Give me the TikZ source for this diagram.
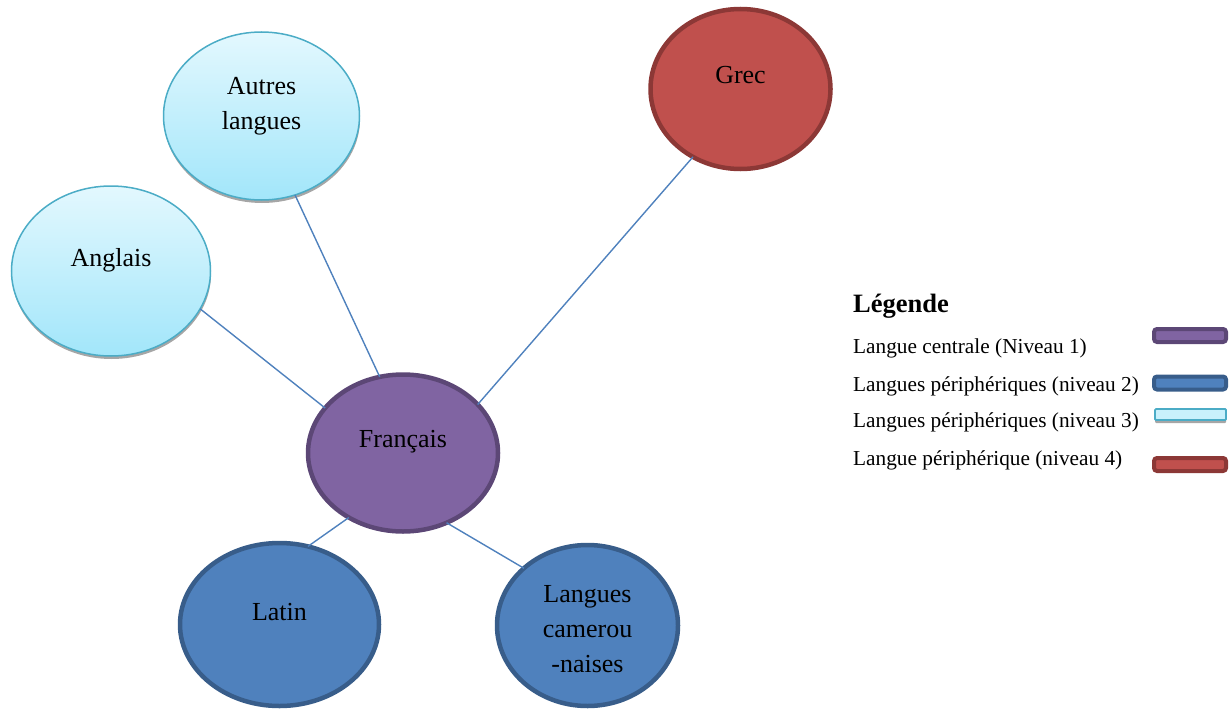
\documentclass[tikz,border=0pt]{standalone}
\usepackage{fontspec}
\setmainfont{LiberationSerif}[Extension=.ttf, UprightFont=*-Regular, BoldFont=*-Bold, ItalicFont=*-Italic, BoldItalicFont=*-BoldItalic]
\usetikzlibrary{shapes.geometric,shadows}
\definecolor{purpF}{HTML}{8064A2}
\definecolor{purpD}{HTML}{5C4776}
\definecolor{blueF}{HTML}{4F81BD}
\definecolor{blueD}{HTML}{385D8A}
\definecolor{redF}{HTML}{C0504D}
\definecolor{redD}{HTML}{8C3836}
\definecolor{cyanT}{HTML}{E3F8FE}
\definecolor{cyanB}{HTML}{A2E6FA}
\definecolor{cyanD}{HTML}{4BACC6}
\definecolor{shad}{HTML}{A6A6A6}
\tikzset{
  lang/.style={ellipse, inner sep=0pt, outer sep=0pt},
  lvone/.style={lang, fill=purpF, draw=purpD, line width=4.5pt},
  lvtwo/.style={lang, fill=blueF, draw=blueD, line width=4.5pt},
  lvthree/.style={lang, top color=cyanT, bottom color=cyanB, draw=cyanD, line width=1.5pt,
     general shadow={fill=shad, shadow yshift=-3pt, shadow xshift=0.5pt}},
  lvfour/.style={lang, fill=redF, draw=redD, line width=4.5pt},
  link/.style={draw=blueF, line width=1.4pt},
  lbl/.style={font=\fontsize{26}{35}\selectfont, anchor=base, align=center, inner sep=0pt},
  legt/.style={font=\fontsize{21.3}{25}\selectfont, anchor=base west, inner sep=0pt},
  legh/.style={font=\bfseries\fontsize{26.5}{30}\selectfont, anchor=base west, inner sep=0pt},
  swatch/.style={rectangle, rounded corners=3pt, line width=4pt, inner sep=0pt,
     minimum width=72pt, minimum height=13pt},
}
\begin{document}
\begin{tikzpicture}[x=1pt,y=-1pt]
\useasboundingbox (0,0) rectangle (1230,709);
% nodes
\node[lvthree, minimum width=196pt, minimum height=168pt] (aut) at (261.5,116) {};
\node[lvthree, minimum width=199pt, minimum height=170pt] (ang) at (111,271) {};
\node[lvfour, minimum width=180pt, minimum height=160pt] (gre) at (740.5,89) {};
\node[lvone, minimum width=190pt, minimum height=157pt] (fra) at (403,453) {};
\node[lvtwo, minimum width=199pt, minimum height=163pt] (lat) at (279.5,624.5) {};
\node[lvtwo, minimum width=181pt, minimum height=161pt] (cam) at (587.5,625.5) {};
% connectors
\draw[link] (fra.107.6) -- (aut.-67.8);
\draw[link] (fra.150.6) -- (ang.-23.9);
\draw[link] (fra.33.7) -- (gre.-125.1);
\draw[link] (fra.-130.8) -- (lat.70.1);
\draw[link] (fra.-58.8) -- (cam.138.6);
% labels
\node[lbl] (tfra) at (403,447) {Français};
\node[lbl] (tgre) at (740.5,83) {Grec};
\node[lbl] (tlat) at (279.5,620) {Latin};
\node[lbl] (tang) at (111,266) {Anglais};
\node[lbl] (taut) at (261.5,129) {Autres\\langues};
\node[lbl] (tcam) at (587.5,672) {Langues\\camerou\\-naises};
% legend
\node[legh] (lh) at (853,312) {Légende};
\node[legt] (l1) at (853,353) {Langue centrale (Niveau 1)};
\node[legt] (l2) at (853,391) {Langues périphériques (niveau 2)};
\node[legt] (l3) at (853,427) {Langues périphériques (niveau 3)};
\node[legt] (l4) at (853,465) {Langue périphérique (niveau 4)};
\node[swatch, fill=purpF, draw=purpD] (s1) at (1190,335.5) {};
\node[swatch, fill=blueF, draw=blueD] (s2) at (1190,383) {};
\node[swatch, fill=cyanT!60!cyanB, draw=cyanD, line width=1.8pt, rounded corners=1pt,
      minimum width=71pt, minimum height=11pt,
      general shadow={fill=shad, shadow yshift=-3pt}] (s3) at (1190.5,414.5) {};
\node[swatch, fill=redF, draw=redD] (s4) at (1190,464.5) {};
\end{tikzpicture}
\end{document}
